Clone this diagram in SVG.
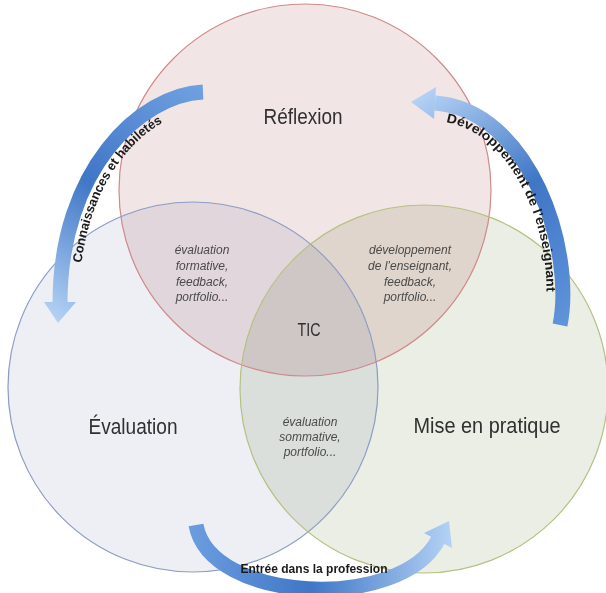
<svg xmlns="http://www.w3.org/2000/svg" width="606" height="593" viewBox="0 0 606 593">
<style>
.fill{mix-blend-mode:multiply;stroke:none}
.edge{fill:none;stroke-width:1.2}
.lbl{font-family:"Liberation Sans",Arial,sans-serif;fill:#303030;text-anchor:middle}
.it{font-family:"Liberation Sans",Arial,sans-serif;font-style:italic;font-size:12px;fill:#4a4a4a;text-anchor:middle}
.arw{font-family:"Liberation Sans",Arial,sans-serif;font-weight:bold;font-size:13px;fill:#1a1a1a}
.body{fill:none;stroke-width:15;stroke-linecap:butt}
</style>
<defs>
<linearGradient id="gL" gradientUnits="userSpaceOnUse" x1="203" y1="92" x2="60" y2="322">
<stop offset="0" stop-color="#6f9fe0"/><stop offset="0.5" stop-color="#3f76c6"/><stop offset="1" stop-color="#b3d1f4"/>
</linearGradient>
<linearGradient id="gR" gradientUnits="userSpaceOnUse" x1="560" y1="325" x2="413" y2="102">
<stop offset="0" stop-color="#5f93da"/><stop offset="0.5" stop-color="#3f76c6"/><stop offset="1" stop-color="#b3d1f4"/>
</linearGradient>
<linearGradient id="gB" gradientUnits="userSpaceOnUse" x1="196" y1="525" x2="450" y2="525">
<stop offset="0" stop-color="#6a9bde"/><stop offset="0.45" stop-color="#3f76c6"/><stop offset="1" stop-color="#b3d1f4"/>
</linearGradient>
<path id="tpL" d="M79,303 C79,180 146,113 203,111"/>
<path id="tpR" d="M434,121 C518,123 559,250 543,322"/>
</defs>
<rect width="606" height="593" fill="#ffffff"/>
<g id="circles">
<g id="reflexion">
<circle class="fill" cx="305" cy="190" r="186" fill="#f2e5e5"/>
</g>
<g id="evaluation">
<circle class="fill" cx="193" cy="387" r="185" fill="#edeff5"/>
</g>
<g id="pratique">
<circle class="fill" cx="424" cy="389" r="184" fill="#ebeee5"/>
</g>
<circle class="edge" cx="305" cy="190" r="186" stroke="#cf8a8a"/>
<circle class="edge" cx="193" cy="387" r="185" stroke="#8c9cc4"/>
<circle class="edge" cx="424" cy="389" r="184" stroke="#b3c283"/>
</g>
<g id="labels">
<text class="lbl" x="303" y="124" font-size="22" textLength="79" lengthAdjust="spacingAndGlyphs">Réflexion</text>
<text class="lbl" x="133" y="434" font-size="22" textLength="89" lengthAdjust="spacingAndGlyphs">Évaluation</text>
<text class="lbl" x="487" y="433" font-size="22" textLength="147" lengthAdjust="spacingAndGlyphs">Mise en pratique</text>
<text class="lbl" x="309" y="336" font-size="18" textLength="23" lengthAdjust="spacingAndGlyphs">TIC</text>
</g>
<g id="inter-top-left">
<text class="it" x="202" y="254">évaluation</text>
<text class="it" x="202" y="270">formative,</text>
<text class="it" x="202" y="286">feedback,</text>
<text class="it" x="202" y="301">portfolio...</text>
</g>
<g id="inter-top-right">
<text class="it" x="410" y="254">développement</text>
<text class="it" x="410" y="270">de l’enseignant,</text>
<text class="it" x="410" y="286">feedback,</text>
<text class="it" x="410" y="301">portfolio...</text>
</g>
<g id="inter-bottom">
<text class="it" x="310" y="426">évaluation</text>
<text class="it" x="310" y="441">sommative,</text>
<text class="it" x="310" y="456">portfolio...</text>
</g>
<g id="connectors">
<g id="arrow-left">
<path class="body" d="M203,92 C140,95 60,170 60,303" stroke="url(#gL)"/>
<polygon points="44,302 76,302 58,323" fill="url(#gL)"/>
<text class="arw"><textPath href="#tpL" startOffset="40" textLength="168" lengthAdjust="spacingAndGlyphs">Connaissances et habiletés</textPath></text>
</g>
<g id="arrow-right">
<path class="body" d="M560,325 C575,250 530,110 435,103" stroke="url(#gR)"/>
<polygon points="436,87 434,119 411,102" fill="url(#gR)"/>
<text class="arw"><textPath href="#tpR" startOffset="12" textLength="212" lengthAdjust="spacingAndGlyphs">Développement de l’enseignant</textPath></text>
</g>
<g id="arrow-bottom">
<path class="body" d="M196,525 C210,603 400,612 438,540" stroke="url(#gB)"/>
<polygon points="452,548 424,533 449,521" fill="url(#gB)"/>
<text class="arw" x="314" y="573" text-anchor="middle" textLength="147" lengthAdjust="spacingAndGlyphs">Entrée dans la profession</text>
</g>
</g>
</svg>
